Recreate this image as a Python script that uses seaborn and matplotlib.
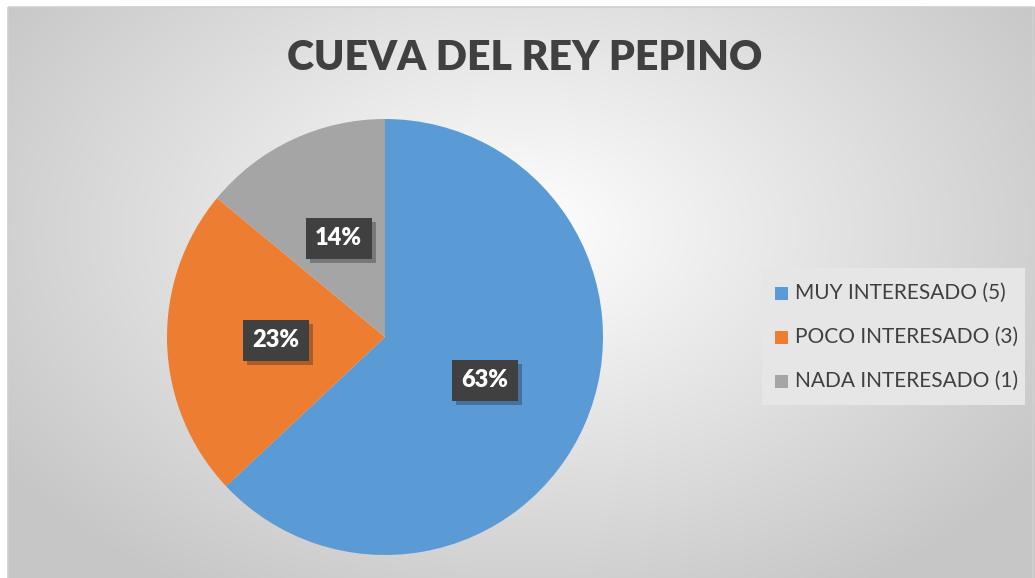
import numpy as np
import matplotlib.pyplot as plt
import seaborn as sns
from matplotlib.patches import Rectangle
import matplotlib.patheffects as pe

sns.set_style("white")
plt.rcParams['font.family'] = ['Lato', 'DejaVu Sans']

# ---------------- Data ----------------
title = "CUEVA DEL REY PEPINO"
categories = ["MUY INTERESADO (5)", "POCO INTERESADO (3)", "NADA INTERESADO (1)"]
shares = [63, 23, 14]
colors = ["#5B9BD5", "#ED7D31", "#A5A5A5"]

W, H = 1035, 578
fig = plt.figure(figsize=(W / 100, H / 100), dpi=100)

# ---------------- Background: radial gradient inside a frame ----------------
bg = fig.add_axes([0, 0, 1, 1])
yy, xx = np.mgrid[0:H, 0:W]
r = np.sqrt(((xx - 520) / 620) ** 2 + ((yy - 230) / 420) ** 2)
grad = np.clip(1.0 - 0.22 * r, 0.78, 1.0)
img = np.dstack([grad, grad, grad])
img[:7, :] = 1.0
img[:, :8] = 1.0
bg.imshow(img, extent=[0, W, H, 0], aspect="auto", interpolation="bilinear")
bg.add_patch(Rectangle((8, 7), W - 10, H, fill=False, edgecolor="#d0d0d0", lw=1.2))
bg.set_xlim(0, W)
bg.set_ylim(H, 0)
bg.axis("off")

# ---------------- Title ----------------
fig.text(525 / W, 1 - 58 / H, title, ha="center", va="center",
         fontsize=29.5, fontweight="heavy", color="#404040")

# ---------------- Pie ----------------
cx, cy, rad = 385, 337, 218
ax = fig.add_axes([(cx - rad) / W, 1 - (cy + rad) / H, 2 * rad / W, 2 * rad / H])
wedges, texts, autotexts = ax.pie(
    shares, colors=colors, startangle=90, counterclock=False,
    autopct="%1.0f%%", pctdistance=0.5, radius=1.0,
    wedgeprops=dict(linewidth=0),
    textprops=dict(color="white", fontsize=17, fontweight="heavy"),
)
for t in autotexts:
    t.set_bbox(dict(boxstyle="square,pad=0.4", facecolor="#404040", edgecolor="none",
                    path_effects=[pe.SimplePatchShadow(offset=(3, -3), alpha=0.3), pe.Normal()]))
ax.set_xlim(-1, 1)
ax.set_ylim(-1, 1)
ax.set_aspect("equal")
ax.axis("off")

# ---------------- Legend ----------------
fig.patches.append(Rectangle((762 / W, 1 - 405 / H), 263 / W, 137 / H,
                             transform=fig.transFigure, facecolor="#e6e6e6",
                             edgecolor="none", zorder=1))
for i, (name, c) in enumerate(zip(categories, colors)):
    y = 293 + i * 44
    fig.patches.append(Rectangle((775 / W, 1 - (y + 7) / H), 13 / W, 13 / H,
                                 transform=fig.transFigure, facecolor=c,
                                 edgecolor="none", zorder=2))
    fig.text(795 / W, 1 - y / H, name, ha="left", va="center",
             fontsize=15, color="#404040", zorder=3)

fig.savefig("out.png", dpi=100)
